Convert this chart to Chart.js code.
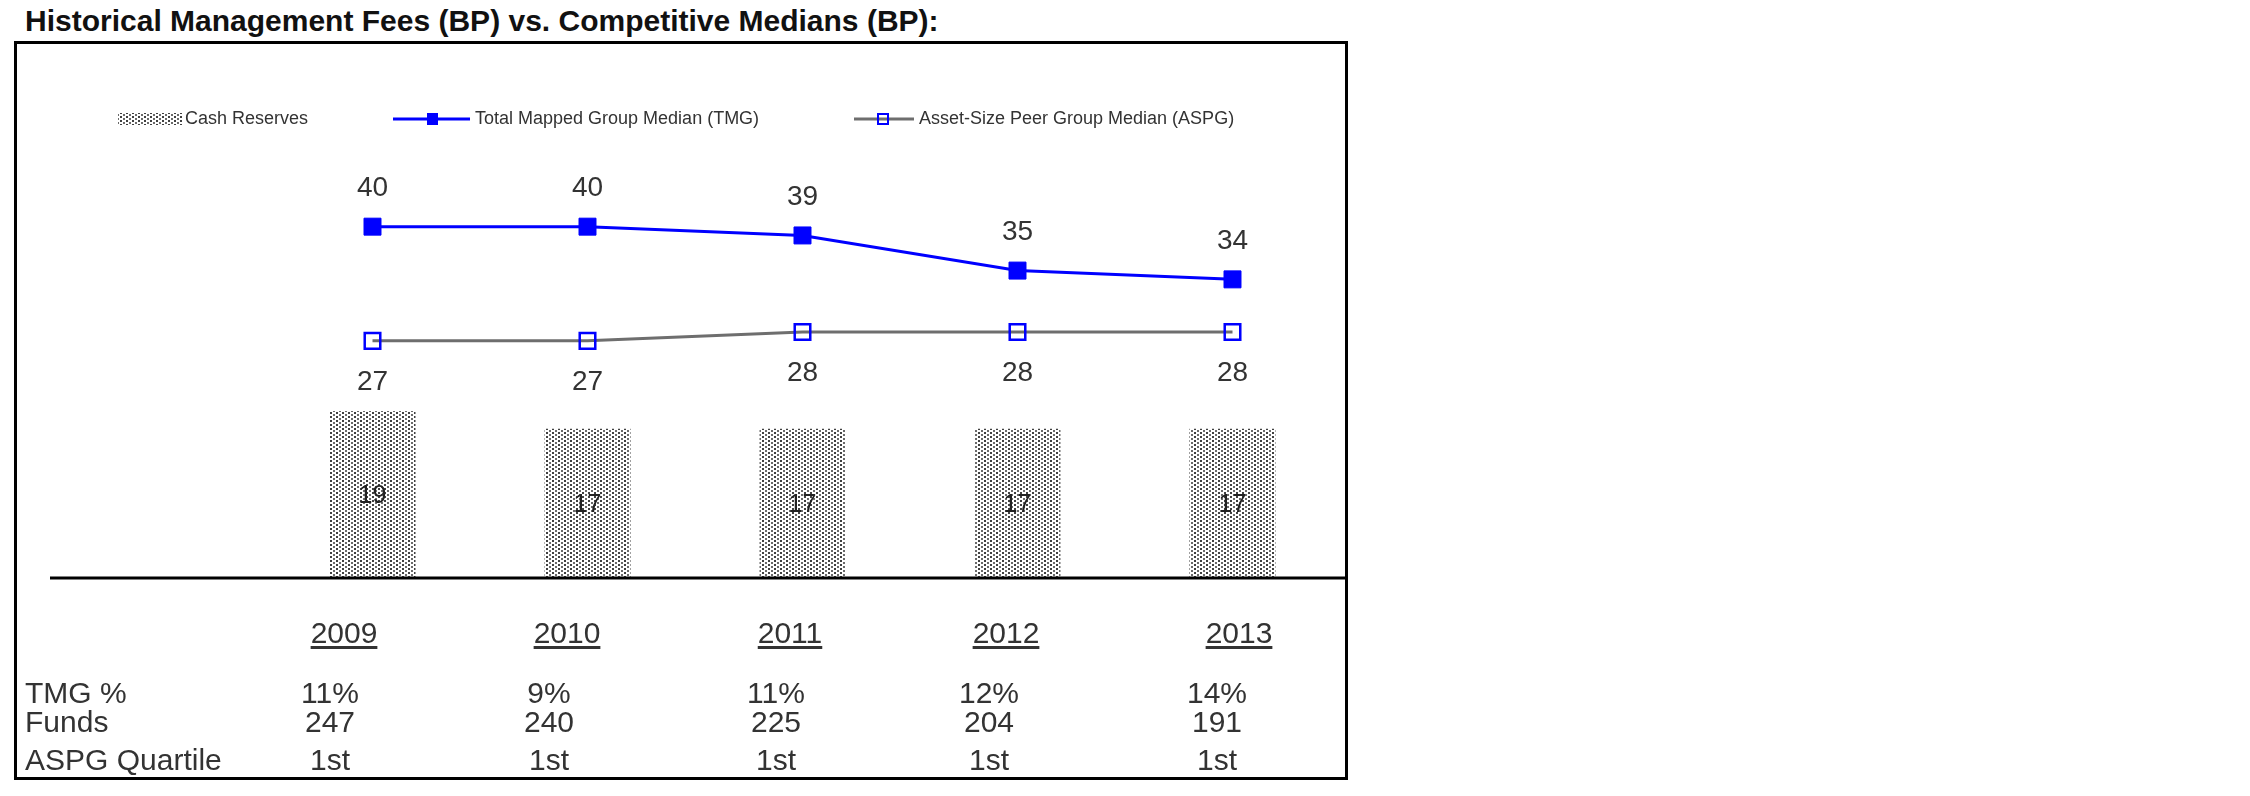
<!DOCTYPE html>
<html>
<head>
<meta charset="utf-8">
<script src="https://cdn.jsdelivr.net/npm/chart.js@4"></script>
<style>
  body { margin:0; background:#fff; width:2250px; height:796px; overflow:hidden; position:relative; font-family:"Liberation Sans", Arial, sans-serif; }
  #title { position:absolute; left:25px; top:4px; font-weight:bold; font-size:30px; color:#111; white-space:nowrap; }
  #frame { position:absolute; left:14px; top:41px; width:1334px; height:739px; border:3px solid #000; box-sizing:border-box; }
  #chart { position:absolute; left:0; top:0; }
  .cell { position:absolute; font-size:30px; color:#333; white-space:nowrap; transform:translate(-50%,-50%); }
  .yr { text-decoration:underline; text-decoration-thickness:3px; text-underline-offset:3px; }
  .rowlbl { position:absolute; left:25px; font-size:30px; color:#333; white-space:nowrap; transform:translateY(-50%); }
</style>
</head>
<body>
<div id="title">Historical Management Fees (BP) vs. Competitive Medians (BP):</div>
<div id="frame"></div>
<canvas id="chart" width="2250" height="796"></canvas>
<div id="table"></div>
<script>
const years = ['2009', '2010', '2011', '2012', '2013'];
const cashReserves = [19, 17, 17, 17, 17];
const tmgMedian = [40, 40, 39, 35, 34];
const aspgMedian = [27, 27, 28, 28, 28];
const tmgPct = ['11%', '9%', '11%', '12%', '14%'];
const funds = ['247', '240', '225', '204', '191'];
const aspgQuartile = ['1st', '1st', '1st', '1st', '1st'];

// table below the chart
const yearX = [344, 567, 790, 1006, 1239];
const valX = [330, 549, 776, 989, 1217];
const table = document.getElementById('table');
function addCell(text, x, y, cls) {
    let d = document.createElement('div');
    d.className = cls;
    d.textContent = text;
    d.style.left = x + 'px';
    d.style.top = y + 'px';
    table.appendChild(d);
}
years.forEach((y, i) => addCell(y, yearX[i], 633, 'cell yr'));
[['TMG %', tmgPct, 693], ['Funds', funds, 722], ['ASPG Quartile', aspgQuartile, 760]].forEach(row => {
    addCell(row[0], 25, row[2], 'rowlbl');
    row[1].forEach((v, i) => addCell(v, valX[i], row[2], 'cell'));
});

// dotted fill for the cash reserves bars
function dotPattern() {
    let c = document.createElement('canvas');
    c.width = 6; c.height = 4;
    let g = c.getContext('2d');
    g.fillStyle = '#fff';
    g.fillRect(0, 0, 6, 4);
    g.fillStyle = '#404040';
    g.fillRect(0, 0, 2, 2);
    g.fillStyle = '#6a6a6a';
    g.fillRect(3, 2, 2, 2);
    return document.getElementById('chart').getContext('2d').createPattern(c, 'repeat');
}
const dots = dotPattern();

const labelPlugin = {
    id: 'labels',
    afterDatasetsDraw(chart) {
        let ctx = chart.ctx;
        ctx.save();
        ctx.textAlign = 'center';
        ctx.textBaseline = 'middle';
        chart.data.datasets.forEach((ds, di) => {
            let meta = chart.getDatasetMeta(di);
            meta.data.forEach((el, i) => {
                let v = ds.data[i];
                if (ds.type === 'bar') {
                    ctx.font = '25px "Liberation Sans", Arial';
                    ctx.fillStyle = '#222';
                    ctx.fillText(v, el.x, (el.y + el.base) / 2 + 2);
                } else {
                    ctx.font = '28px "Liberation Sans", Arial';
                    ctx.fillStyle = '#333';
                    ctx.fillText(v, el.x, el.y + ds.labelOffset);
                }
            });
        });
        // baseline
        let y0 = chart.scales.y.getPixelForValue(0);
        ctx.strokeStyle = '#000';
        ctx.lineWidth = 3;
        ctx.beginPath();
        ctx.moveTo(50, y0);
        ctx.lineTo(1345, y0);
        ctx.stroke();
        ctx.restore();
    }
};

const legendPlugin = {
    id: 'customLegend',
    afterDraw(chart) {
        let ctx = chart.ctx;
        let ly = 119;
        let ds = chart.data.datasets;
        ctx.save();
        ctx.font = '18px "Liberation Sans", Arial';
        ctx.textBaseline = 'middle';
        // bar item
        ctx.fillStyle = dots;
        ctx.fillRect(118, ly - 6, 64, 12);
        ctx.fillStyle = '#333';
        ctx.fillText(ds[2].label, 185, ly);
        // TMG item
        ctx.strokeStyle = ds[0].borderColor;
        ctx.lineWidth = 3;
        ctx.beginPath(); ctx.moveTo(393, ly); ctx.lineTo(470, ly); ctx.stroke();
        ctx.fillStyle = ds[0].pointBackgroundColor;
        ctx.fillRect(427, ly - 6, 11, 12);
        ctx.fillStyle = '#333';
        ctx.fillText(ds[0].label, 475, ly);
        // ASPG item
        ctx.strokeStyle = ds[1].borderColor;
        ctx.beginPath(); ctx.moveTo(854, ly); ctx.lineTo(914, ly); ctx.stroke();
        ctx.strokeStyle = ds[1].pointBorderColor;
        ctx.lineWidth = 2;
        ctx.strokeRect(878, ly - 5, 10, 10);
        ctx.fillStyle = '#333';
        ctx.fillText(ds[1].label, 919, ly);
        ctx.restore();
    }
};

new Chart(document.getElementById('chart'), {
    type: 'bar',
    data: {
        labels: years,
        datasets: [{
            type: 'line',
            label: 'Total Mapped Group Median (TMG)',
            data: tmgMedian,
            borderColor: '#0000ff',
            borderWidth: 3,
            pointStyle: 'rect',
            pointRadius: 12,
            pointBackgroundColor: '#0000ff',
            pointBorderColor: '#0000ff',
            pointBorderWidth: 1,
            tension: 0,
            labelOffset: -38,
            order: 0
        }, {
            type: 'line',
            label: 'Asset-Size Peer Group Median (ASPG)',
            data: aspgMedian,
            borderColor: '#6e6e6e',
            borderWidth: 3,
            pointStyle: 'rect',
            pointRadius: 11,
            pointBackgroundColor: 'rgba(0,0,0,0)',
            pointBorderColor: '#0000ff',
            pointBorderWidth: 2.5,
            tension: 0,
            labelOffset: 41,
            order: 1
        }, {
            type: 'bar',
            label: 'Cash Reserves',
            data: cashReserves,
            backgroundColor: dots,
            borderWidth: 0,
            categoryPercentage: 1,
            barPercentage: 0.4,
            order: 2
        }]
    },
    options: {
        responsive: false,
        animation: false,
        layout: { padding: { left: 265, right: 910, top: 51, bottom: 218 } },
        plugins: { legend: { display: false }, tooltip: { enabled: false } },
        scales: {
            x: { display: false },
            y: { display: false, min: 0, max: 60 }
        }
    },
    plugins: [labelPlugin, legendPlugin]
});
</script>
</body>
</html>
